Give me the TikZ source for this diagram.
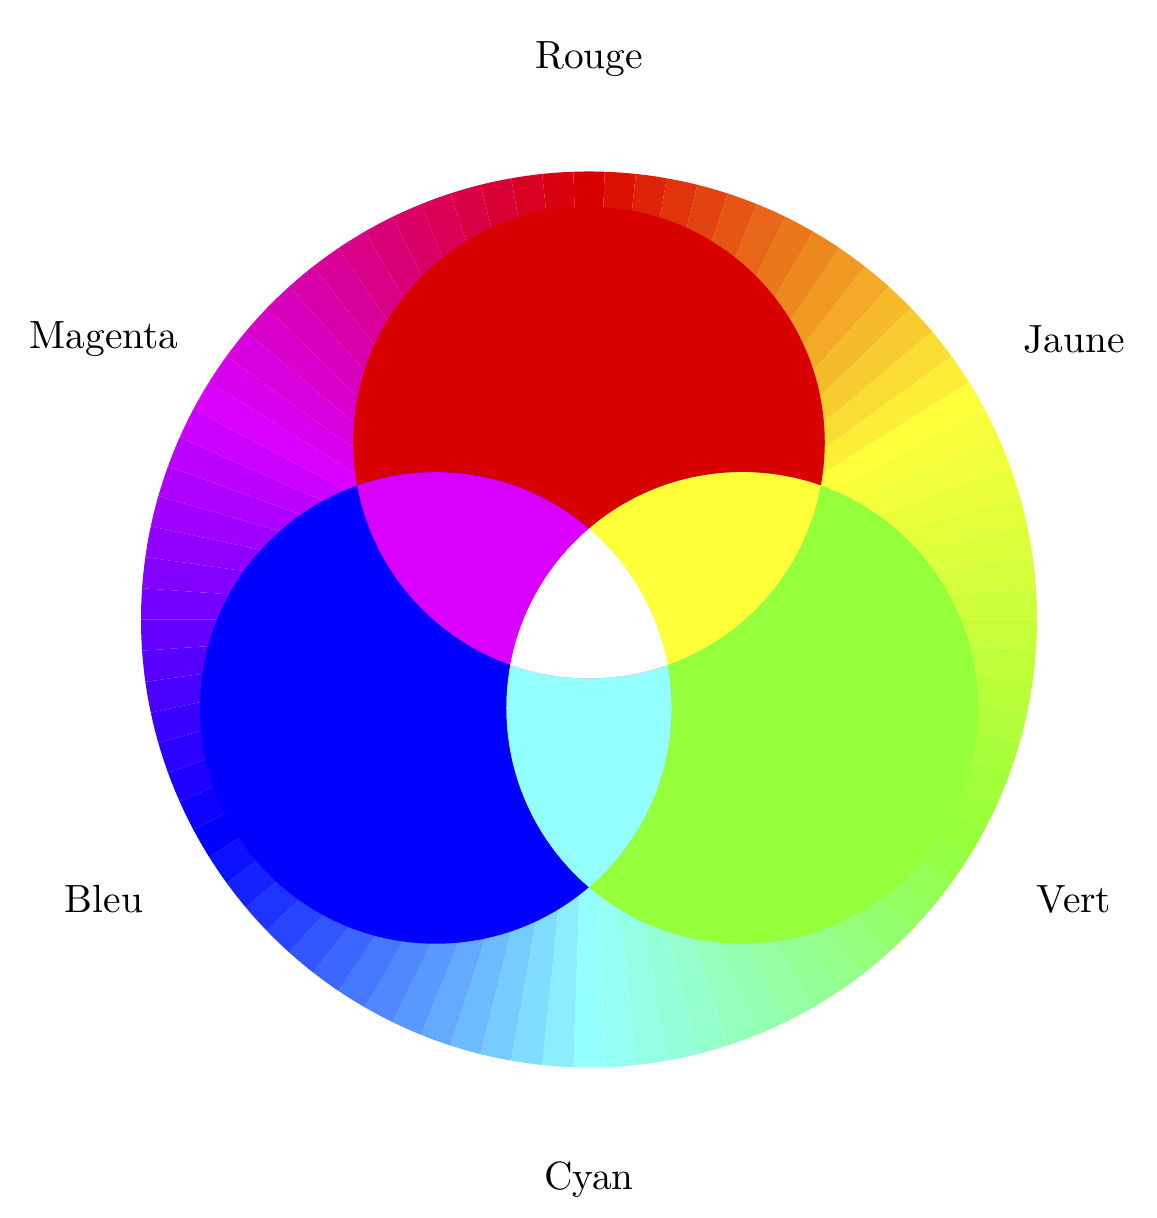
\documentclass[tikz,border=0pt]{standalone}
\usepackage{tikz}
\usetikzlibrary{calc}

\definecolor{rouge}{RGB}{217,0,0}
\definecolor{jaune}{RGB}{255,255,58}
\definecolor{vert}{RGB}{148,255,58}
\definecolor{cyanc}{RGB}{148,255,255}
\definecolor{bleu}{RGB}{0,0,255}
\definecolor{magentac}{RGB}{217,0,255}

\begin{document}
\begin{tikzpicture}[wheel label/.style={font=\normalsize}]
        \useasboundingbox (-5.259,-5.344) rectangle (5.071,5.531);
        % Outer ring: 90 wedges, 15 per colour pair
        \foreach \ca/\cb [count=\k from 0] in {rouge/jaune,jaune/vert,vert/cyanc,cyanc/bleu,bleu/magentac,magentac/rouge} {
            \foreach \j in {0,...,14} {
                \pgfmathsetmacro\pc{100-100*\j/15}
                \pgfmathsetmacro\aa{92-60*\k-4*\j}
                \pgfmathsetmacro\ab{88-60*\k-4*\j}
                \fill[color=\ca!\pc!\cb] (0,0) -- (\aa:4) arc[start angle=\aa, end angle=\ab, radius=4] -- cycle;
            }
        }
        % Centres of the three circles
        \coordinate (cR) at (90:1.58);
        \coordinate (cV) at (-30:1.58);
        \coordinate (cB) at (210:1.58);
        % Primary discs
        \fill[rouge] (cR) circle (2.105);
        \fill[bleu] (cB) circle (2.105);
        \fill[vert] (cV) circle (2.105);
        % Blue + green
        \begin{scope}
            \clip (cB) circle (2.105);
            \fill[cyanc] (cV) circle (2.105);
        \end{scope}
        % Red + blue, red + green, all three
        \begin{scope}
            \clip (cR) circle (2.105);
            \fill[magentac] (cB) circle (2.105);
            \fill[jaune] (cV) circle (2.105);
            \clip (cB) circle (2.105);
            \fill[white] (cV) circle (2.105);
        \end{scope}
        % Labels
        \node[wheel label] (lrouge) at (90:5) {Rouge};
        \node[wheel label] (ljaune) at (30:5) {Jaune};
        \node[wheel label] (lvert) at (-30:5) {Vert};
        \node[wheel label] (lcyan) at (-90:5) {Cyan};
        \node[wheel label] (lbleu) at (210:5) {Bleu};
        \node[wheel label] (lmagenta) at (150:5) {Magenta};
    \end{tikzpicture}
\end{document}
